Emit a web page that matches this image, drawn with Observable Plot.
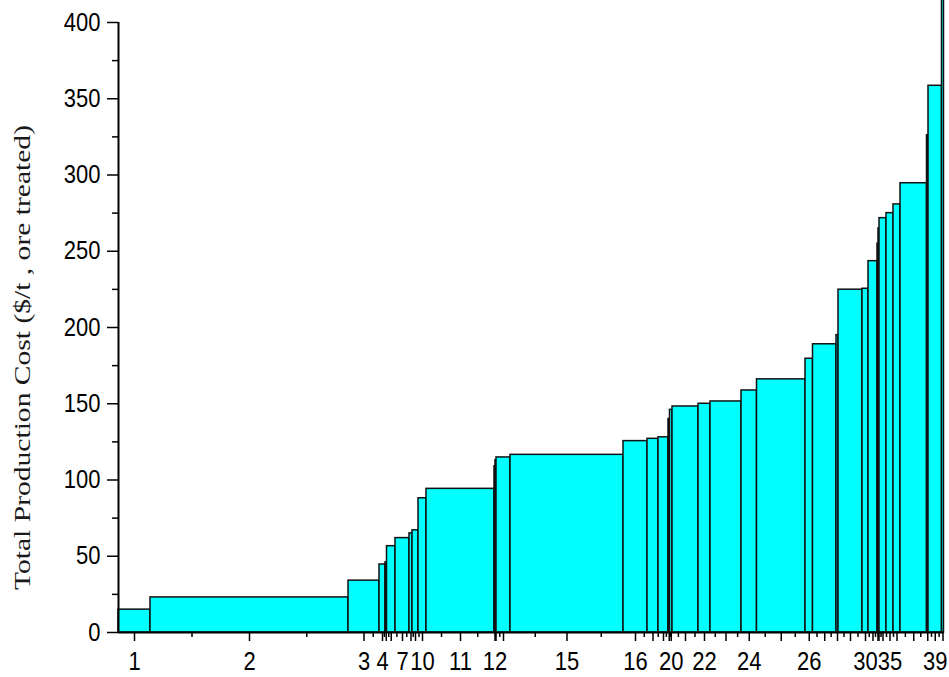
<!DOCTYPE html>
<html>
<head>
<meta charset="utf-8">
<script src="https://cdn.jsdelivr.net/npm/d3@7"></script>
<script src="https://cdn.jsdelivr.net/npm/@observablehq/plot@0.6"></script>
<style>
  html, body { margin: 0; padding: 0; background: #fff; }
</style>
</head>
<body>
<div id="chart"></div>
<script>
// Mine number (sorted by cost), processing capacity (relative width), total production cost ($/t ore treated)
const mineIds = [1,2,3,4,5,6,7,8,9,10,11,12,13,14,15,16,17,18,19,20,21,22,23,24,25,26,27,28,29,30,31,32,33,34,35,36,37,38,39,40];
const capacity = [32,198,31,6,1.5,8.5,14,3,6,8,68,1,1,14,113,24,11,10,1.5,2.5,26,12,31,15.5,48.5,7.5,23.5,2,24,6,9,1,1,7,7,7,26.5,1.5,13.5,2];
const cost = [15,23,34,44.6,46,56.6,61.9,65,67,88,94.2,109,113,114.8,116.5,125.5,127,128,140,146,148.2,150,151.5,158.7,166,179.5,189,195,224.8,225.4,243.5,255,265,271.7,275,280.7,294.6,326,358.5,420];
const labelledIds = [1,2,3,4,7,10,11,12,15,16,20,22,24,26,30,35,39];
const yMajorTicks = [0,50,100,150,200,250,300,350,400];
const yMinorTicks = [25,75,125,175,225,275,325,375];
const yTitle = "Total Production Cost ($/t , ore treated)";

let acc = 0;
const bars = mineIds.map((id, i) => {
  const x1 = acc;
  acc += capacity[i];
  return {id, x1, x2: acc, xc: (x1 + acc) / 2, cost: cost[i]};
});
const total = acc;
const centers = bars.map(d => d.xc);
const mids = centers.slice(1).map((c, i) => (c + centers[i]) / 2);
const labelAt = new Map(bars.filter(d => labelledIds.includes(d.id)).map(d => [d.xc, String(d.id)]));

const chart = Plot.plot({
  width: 949,
  height: 677,
  marginLeft: 118,
  marginRight: 5.5,
  marginTop: 22,
  marginBottom: 45,
  style: {fontFamily: "'Liberation Sans', Arial, sans-serif", fontSize: "22px", color: "#000", background: "#fff", overflow: "visible"},
  x: {domain: [0, total]},
  y: {domain: [0, 400]},
  marks: [
    Plot.rect(bars, {x1: "x1", x2: "x2", y1: 0, y2: "cost", fill: "#00FFFF", stroke: "#111", strokeWidth: 1.5}),
    Plot.axisX({ticks: centers, tickSize: 9, tickPadding: 11, tickFormat: v => labelAt.get(v) ?? "", label: null, strokeWidth: 1.5}),
    Plot.axisX({ticks: mids, tickSize: 5, tickFormat: () => "", label: null, strokeWidth: 1.5}),
    Plot.axisY({ticks: yMajorTicks, tickSize: 11, tickPadding: 7, label: null, strokeWidth: 1.5}),
    Plot.axisY({ticks: yMinorTicks, tickSize: 6, tickFormat: () => "", label: null, strokeWidth: 1.5}),
    Plot.ruleX([0], {stroke: "#000", strokeWidth: 2}),
    Plot.ruleY([0], {stroke: "#000", strokeWidth: 2}),
    Plot.text([yTitle], {frameAnchor: "left", dx: -96, dy: 30, rotate: -90, fontFamily: "'Liberation Serif', 'Times New Roman', serif", fontSize: 23, fill: "#1a1a1a", textAnchor: "middle", lineAnchor: "middle"})
  ]
});
document.getElementById("chart").appendChild(chart);

// Title stretched along its length, as in the reference
const t = chart.querySelector('g[aria-label="text"] text');
if (t) { t.setAttribute("textLength", "465"); t.setAttribute("lengthAdjust", "spacingAndGlyphs"); }

// Tick labels in the reference are slightly taller than wide
chart.querySelectorAll('g[aria-label$="tick label"] text').forEach(el => {
  const tr = el.getAttribute("transform");
  if (tr) {
    el.setAttribute("transform", tr + " scale(1,1.15)");
  } else {
    const x = +el.getAttribute("x") || 0, y = +el.getAttribute("y") || 0;
    el.removeAttribute("x"); el.removeAttribute("y");
    el.setAttribute("transform", `translate(${x},${y}) scale(1,1.15)`);
  }
});
</script>
</body>
</html>
